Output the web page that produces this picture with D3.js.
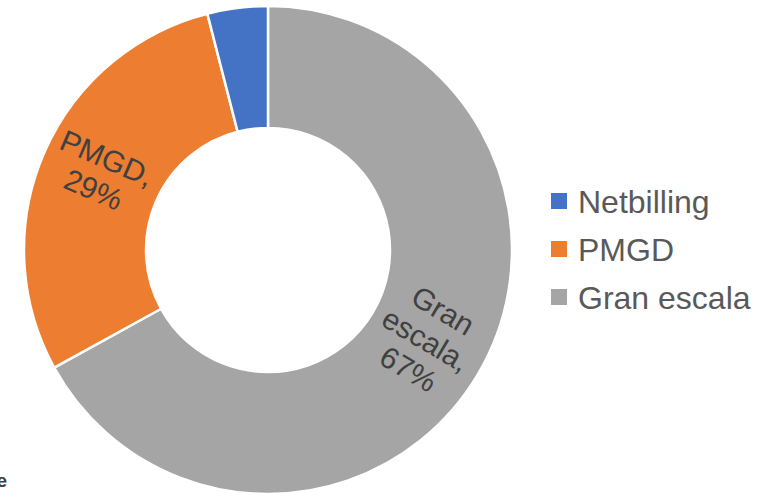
<!DOCTYPE html>
<html>
<head>
<meta charset="utf-8">
<script src="https://cdn.jsdelivr.net/npm/d3@7"></script>
<style>
  html, body { margin: 0; padding: 0; background: #fff; }
  svg { display: block; font-family: "Liberation Sans", Arial, sans-serif; }
</style>
</head>
<body>
<svg id="chart" width="768" height="493"></svg>
<script>
// Capacity share by segment
const categories = ["Netbilling", "PMGD", "Gran escala"];
const values = [4, 29, 67];
const colors = ["#4472C4", "#ED7D31", "#A5A5A5"];
const labelled = [false, true, true];

const svg = d3.select("#chart");
const cx = 268, cy = 250, outerR = 244, innerR = 122;

const rows = categories.map((c, i) => ({ cat: c, v: values[i], color: colors[i], label: labelled[i] }));

// slices run clockwise from 12 o'clock, last category first
const pie = d3.pie().sort(null).value(d => d.v);
const arcs = pie(rows.slice().reverse());
const arc = d3.arc().innerRadius(innerR).outerRadius(outerR);

const g = svg.append("g").attr("transform", `translate(${cx},${cy})`);

g.selectAll("path.slice")
  .data(arcs)
  .join("path")
  .attr("class", "slice")
  .attr("d", arc)
  .attr("fill", d => d.data.color)
  .attr("stroke", "#fff")
  .attr("stroke-width", 2.5)
  .attr("stroke-linejoin", "round");

// data labels, rotated to follow the ring
const labelR = (innerR + outerR) / 2;
const lineH = 34;
const lab = g.selectAll("g.lab")
  .data(arcs.filter(d => d.data.label))
  .join("g")
  .attr("class", "lab")
  .attr("transform", d => {
    const a = (d.startAngle + d.endAngle) / 2;
    const x = labelR * Math.sin(a), y = -labelR * Math.cos(a);
    const deg = a * 180 / Math.PI;
    const rot = deg < 180 ? deg - 90 : deg - 270;
    return `translate(${x},${y - 3}) rotate(${rot})`;
  });

lab.each(function(d) {
  const words = d.data.cat.split(" ");
  words[words.length - 1] += ",";
  const lines = words.concat([d.data.v + "%"]);
  const t = d3.select(this).append("text")
    .attr("text-anchor", "middle")
    .attr("font-size", 30)
    .attr("fill", "#404040");
  lines.forEach((s, i) => {
    t.append("tspan")
      .attr("x", 0)
      .attr("y", (i - (lines.length - 1) / 2) * lineH + 10)
      .text(s);
  });
});

// legend
const legend = svg.append("g").attr("transform", "translate(551,201)");
const item = legend.selectAll("g.item")
  .data(rows)
  .join("g")
  .attr("class", "item")
  .attr("transform", (d, i) => `translate(0,${i * 48})`);
item.append("rect")
  .attr("x", 0).attr("y", -8)
  .attr("width", 16).attr("height", 16)
  .attr("fill", d => d.color);
item.append("text")
  .attr("x", 27).attr("y", 12)
  .attr("font-size", 32)
  .attr("fill", "#595959")
  .text(d => d.cat);

// trailing text at the lower left, clipped by the frame edge
svg.append("text")
  .attr("x", 7).attr("y", 487)
  .attr("text-anchor", "end")
  .attr("font-size", 19)
  .attr("font-weight", "bold")
  .attr("fill", "#404040")
  .text("e");
</script>
</body>
</html>
